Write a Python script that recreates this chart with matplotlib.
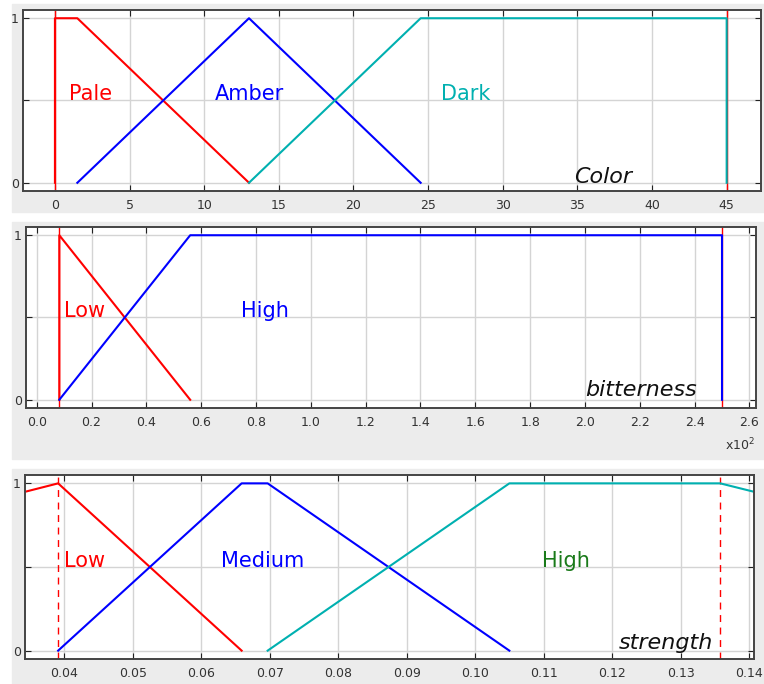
import matplotlib
matplotlib.use("Agg")
import matplotlib.pyplot as plt
from matplotlib.patches import Rectangle
from matplotlib.ticker import FuncFormatter

RED = "#ff0000"
BLUE = "#0000ff"
CYAN = "#00b0b0"
GREEN = "#1a7a1a"

# Color (SRM)
pale_x = [0, 0, 1.5, 13]
pale_y = [0, 1, 1, 0]
amber_x = [1.5, 13, 24.5]
amber_y = [0, 1, 0]
dark_x = [13, 24.5, 45, 45]
dark_y = [0, 1, 1, 0]
color_lines = [0, 45]
color_ticks = [0, 5, 10, 15, 20, 25, 30, 35, 40, 45]

# bitterness (IBU)
bit_low_x = [8.25, 8.25, 56]
bit_low_y = [0, 1, 0]
bit_high_x = [8.25, 56, 250, 250]
bit_high_y = [0, 1, 1, 0]
bit_lines = [8.25, 250]
bit_ticks = list(range(0, 261, 20))

# strength (ABV)
str_low_x = [0.0343, 0.0391, 0.0659]
str_low_y = [0.95, 1, 0]
str_med_x = [0.0391, 0.0659, 0.0697, 0.105]
str_med_y = [0, 1, 1, 0]
str_high_x = [0.0697, 0.105, 0.1358, 0.1407]
str_high_y = [0, 1, 1, 0.95]
str_lines = [0.0391, 0.1358]
str_ticks = [0.04, 0.05, 0.06, 0.07, 0.08, 0.09, 0.10, 0.11, 0.12, 0.13, 0.14]

LABEL_FS = 15
NAME_FS = 16


def style_axes(ax, xticks, xlim):
    ax.set_xlim(*xlim)
    ax.set_ylim(-0.05, 1.05)
    ax.set_xticks(xticks)
    ax.set_yticks([0, 0.5, 1])
    ax.set_yticklabels(["0", "", "1"])
    ax.grid(True, color="#d4d4d4", linewidth=1.0)
    ax.set_axisbelow(True)
    ax.tick_params(direction="in", top=True, right=True, length=4,
                   color="#222222", labelsize=9, labelcolor="#333333", pad=6)
    ax.tick_params(axis="y", pad=3)
    for s in ax.spines.values():
        s.set_color("#444444")
        s.set_linewidth(1.4)
    ax.set_facecolor("white")


fig = plt.figure(figsize=(7.64, 6.84), dpi=100, facecolor="white")
W, H = 764, 684
for top, bot in [(4, 212), (222, 459), (469, 684)]:
    fig.patches.append(Rectangle((12 / W, 1 - bot / H), 1 - 12 / W, (bot - top) / H,
                                 transform=fig.transFigure, color="#ececec", zorder=-10))

# Color panel
ax1 = fig.add_axes([23 / W, 1 - 191 / H, 738 / W, 181 / H])
style_axes(ax1, color_ticks, (-2.14, 47.3))
ax1.plot(pale_x, pale_y, color=RED, lw=1.5)
ax1.plot(amber_x, amber_y, color=BLUE, lw=1.5)
ax1.plot(dark_x, dark_y, color=CYAN, lw=1.5)
for xv in color_lines:
    ax1.axvline(xv, color=RED, lw=1.0, zorder=1.5)
ax1.text(2.4, 0.5, "Pale", color=RED, fontsize=LABEL_FS, ha="center", va="baseline")
ax1.text(13.0, 0.5, "Amber", color=BLUE, fontsize=LABEL_FS, ha="center", va="baseline")
ax1.text(27.5, 0.5, "Dark", color=CYAN, fontsize=LABEL_FS, ha="center", va="baseline")
ax1.text(36.7, 0.0, "Color", color="#111111", fontsize=NAME_FS, style="italic",
         ha="center", va="baseline")

# bitterness panel
ax2 = fig.add_axes([26 / W, 1 - 408 / H, 730 / W, 181 / H])
style_axes(ax2, bit_ticks, (-3.9, 262.4))
ax2.xaxis.set_major_formatter(FuncFormatter(lambda v, p: f"{v / 100:.1f}"))
for xv in bit_lines:
    ax2.axvline(xv, color=RED, lw=1.0)
ax2.plot(bit_low_x, bit_low_y, color=RED, lw=1.5)
ax2.plot(bit_high_x, bit_high_y, color=BLUE, lw=1.5)
ax2.text(17.6, 0.5, "Low", color=RED, fontsize=LABEL_FS, ha="center", va="baseline")
ax2.text(83.3, 0.5, "High", color=BLUE, fontsize=LABEL_FS, ha="center", va="baseline")
ax2.text(220.3, 0.02, "bitterness", color="#111111", fontsize=NAME_FS, style="italic",
         ha="center", va="baseline")
fig.text(725 / W, 1 - 450 / H, r"x10$^{2}$", fontsize=9, color="#333333",
         ha="left", va="baseline")

# strength panel
ax3 = fig.add_axes([25 / W, 1 - 659 / H, 729 / W, 184 / H])
style_axes(ax3, str_ticks, (0.03426, 0.14073))
ax3.xaxis.set_major_formatter(FuncFormatter(lambda v, p: f"{v:.2f}"))
for xv in str_lines:
    ax3.axvline(xv, color=RED, lw=1.0, ls=(0, (5, 4)))
ax3.plot(str_low_x, str_low_y, color=RED, lw=1.5)
ax3.plot(str_med_x, str_med_y, color=BLUE, lw=1.5)
ax3.plot(str_high_x, str_high_y, color=CYAN, lw=1.5)
ax3.text(0.0430, 0.5, "Low", color=RED, fontsize=LABEL_FS, ha="center", va="baseline")
ax3.text(0.0690, 0.5, "Medium", color=BLUE, fontsize=LABEL_FS, ha="center", va="baseline")
ax3.text(0.1133, 0.5, "High", color=GREEN, fontsize=LABEL_FS, ha="center", va="baseline")
ax3.text(0.1279, 0.01, "strength", color="#111111", fontsize=NAME_FS, style="italic",
         ha="center", va="baseline")

fig.savefig("out.png", dpi=100, facecolor=fig.get_facecolor())
